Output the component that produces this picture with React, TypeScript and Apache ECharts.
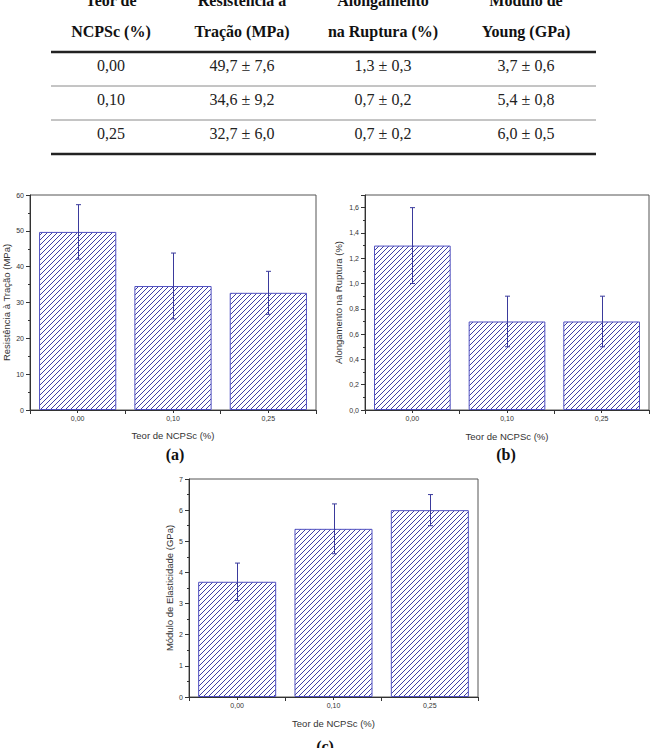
import React, { useEffect, useRef } from 'react';
import * as echarts from 'echarts';

// ---- data ----
const categories = ['0,00', '0,10', '0,25'];
const tensileMean = [49.7, 34.6, 32.7];
const tensileSd = [7.6, 9.2, 6.0];
const elongMean = [1.3, 0.7, 0.7];
const elongSd = [0.3, 0.2, 0.2];
const modulusMean = [3.7, 5.4, 6.0];
const modulusSd = [0.6, 0.8, 0.5];

const headerLine1 = ['Teor de', 'Resistência à', 'Alongamento', 'Módulo de'];
const headerLine2 = ['NCPSc (%)', 'Tração (MPa)', 'na Ruptura (%)', 'Young (GPa)'];
const xAxisTitle = 'Teor de NCPSc (%)';
const yTitles = ['Resistência à Tração (MPa)', 'Alongamento na Ruptura (%)', 'Módulo de Elasticidade (GPa)'];
const panelLabels = ['(a)', '(b)', '(c)'];
const yMaxes = [60, 1.7, 7];
const yIntervals = [10, 0.2, 1];
const yDecimals = [0, 1, 0];

const fmt = (v: number, d: number) => v.toFixed(d).replace('.', ',');

function makeHatch() {
  const c = document.createElement('canvas');
  const s = 5;
  c.width = s;
  c.height = s;
  const ctx = c.getContext('2d')!;
  ctx.fillStyle = '#ffffff';
  ctx.fillRect(0, 0, s, s);
  ctx.strokeStyle = '#3f3fa6';
  ctx.lineWidth = 1;
  ctx.beginPath();
  ctx.moveTo(-1, s + 1);
  ctx.lineTo(s + 1, -1);
  ctx.moveTo(-1, 1);
  ctx.lineTo(1, -1);
  ctx.moveTo(s - 1, s + 1);
  ctx.lineTo(s + 1, s - 1);
  ctx.stroke();
  return c;
}

export default function App() {
  const ref = useRef<HTMLDivElement>(null);
  useEffect(() => {
    if (!ref.current) return;
    const chart = echarts.init(ref.current, undefined, { renderer: 'svg' });
    const hatch = makeHatch();

    const means = [tensileMean, elongMean, modulusMean];
    const sds = [tensileSd, elongSd, modulusSd];
    const grids = [
      { left: 30, top: 195, width: 286, height: 215 },
      { left: 365, top: 195, width: 284, height: 215 },
      { left: 189, top: 479, width: 289, height: 218 },
    ];
    const yNameGaps = [19, 22, 15];
    const xNameGaps = [20, 21, 21];

    const sansFont = 'Liberation Sans, Arial, sans-serif';
    const serifFont = 'Liberation Serif, Times New Roman, serif';

    const xAxes: any[] = [];
    const yAxes: any[] = [];
    const series: any[] = [];
    grids.forEach((g, i) => {
      xAxes.push({
        type: 'category',
        gridIndex: i,
        data: categories,
        position: 'bottom',
        name: xAxisTitle,
        nameLocation: 'middle',
        nameGap: xNameGaps[i],
        nameTextStyle: { fontSize: 9.5, color: '#333', fontFamily: sansFont },
        axisLine: { lineStyle: { color: '#333', width: 1 } },
        axisTick: { show: true, alignWithLabel: false, length: 4, lineStyle: { color: '#333' } },
        axisLabel: { fontSize: 7, color: '#333', margin: 5, fontFamily: sansFont },
      });
      xAxes.push({
        type: 'category',
        gridIndex: i,
        data: categories,
        position: 'bottom',
        axisLine: { show: false },
        axisTick: { show: true, alignWithLabel: true, length: 3, lineStyle: { color: '#333' } },
        axisLabel: { show: false },
      });
      yAxes.push({
        type: 'value',
        gridIndex: i,
        min: 0,
        max: yMaxes[i],
        interval: yIntervals[i],
        name: yTitles[i],
        nameLocation: 'middle',
        nameGap: yNameGaps[i],
        nameTextStyle: { fontSize: 9.5, color: '#333', fontFamily: sansFont },
        splitLine: { show: false },
        axisLine: { show: true, lineStyle: { color: '#333', width: 1 } },
        axisTick: { show: true, length: 4, lineStyle: { color: '#333' } },
        minorTick: { show: true, splitNumber: 2, length: 2, lineStyle: { color: '#333' } },
        axisLabel: {
          fontSize: 7,
          color: '#333',
          margin: 6,
          fontFamily: sansFont,
          showMaxLabel: i === 1 ? false : true,
          formatter: (v: number) => fmt(v, yDecimals[i]),
        },
      });
      series.push({
        type: 'bar',
        xAxisIndex: i * 2,
        yAxisIndex: i,
        data: means[i],
        barWidth: '81%',
        itemStyle: {
          color: { image: hatch, repeat: 'repeat' },
          borderColor: '#5050c0',
          borderWidth: 1,
        },
        z: 2,
      });
      series.push({
        type: 'custom',
        xAxisIndex: i * 2,
        yAxisIndex: i,
        z: 3,
        data: means[i].map((m, k) => [k, m - sds[i][k], m + sds[i][k]]),
        renderItem: (params: any, api: any) => {
          const k = api.value(0);
          const lo = api.coord([k, api.value(1)]);
          const hi = api.coord([k, api.value(2)]);
          const x = Math.round(lo[0]) + 0.5;
          const cap = 2.5;
          const style = { stroke: '#3a3a9c', lineWidth: 1 };
          return {
            type: 'group',
            children: [
              { type: 'line', shape: { x1: x, y1: lo[1], x2: x, y2: hi[1] }, style },
              { type: 'line', shape: { x1: x - cap, y1: hi[1], x2: x + cap, y2: hi[1] }, style },
              { type: 'line', shape: { x1: x - cap, y1: lo[1], x2: x + cap, y2: lo[1] }, style },
            ],
          };
        },
      });
    });

    // table graphics
    const colX = [111, 242, 383, 526];
    const rowY = [65, 99, 133];
    const graphics: any[] = [];
    headerLine1.forEach((t, c) => {
      graphics.push({
        type: 'text', x: colX[c], y: 0,
        style: { text: t, fontSize: 16, fontWeight: 'bold', fontFamily: serifFont, fill: '#111', align: 'center', verticalAlign: 'middle' },
      });
    });
    headerLine2.forEach((t, c) => {
      graphics.push({
        type: 'text', x: colX[c], y: 31,
        style: { text: t, fontSize: 16, fontWeight: 'bold', fontFamily: serifFont, fill: '#111', align: 'center', verticalAlign: 'middle' },
      });
    });
    categories.forEach((cat, r) => {
      const cells = [
        cat,
        `${fmt(tensileMean[r], 1)} ± ${fmt(tensileSd[r], 1)}`,
        `${fmt(elongMean[r], 1)} ± ${fmt(elongSd[r], 1)}`,
        `${fmt(modulusMean[r], 1)} ± ${fmt(modulusSd[r], 1)}`,
      ];
      cells.forEach((t, c) => {
        graphics.push({
          type: 'text', x: colX[c], y: rowY[r],
          style: { text: t, fontSize: 16, fontFamily: serifFont, fill: '#222', align: 'center', verticalAlign: 'middle' },
        });
      });
    });
    const tableLines = [
      { y: 52, w: 2.5, c: '#222' },
      { y: 86, w: 1, c: '#8a8a8a' },
      { y: 120, w: 1, c: '#8a8a8a' },
      { y: 154, w: 2.5, c: '#222' },
    ];
    tableLines.forEach((l) => {
      graphics.push({
        type: 'line', shape: { x1: 51, y1: l.y, x2: 596, y2: l.y },
        style: { stroke: l.c, lineWidth: l.w },
      });
    });
    const labelPos = [[175, 454], [506, 454], [325, 746]];
    panelLabels.forEach((t, i) => {
      graphics.push({
        type: 'text', x: labelPos[i][0], y: labelPos[i][1],
        style: { text: t, fontSize: 16, fontWeight: 'bold', fontFamily: serifFont, fill: '#111', align: 'center', verticalAlign: 'middle' },
      });
    });

    chart.setOption({
      animation: false,
      backgroundColor: '#ffffff',
      grid: grids.map((g) => ({ ...g, show: true, borderColor: '#555', borderWidth: 1, backgroundColor: 'transparent' })),
      xAxis: xAxes,
      yAxis: yAxes,
      series,
      graphic: graphics,
    });
    return () => chart.dispose();
  }, []);
  return <div ref={ref} style={{ position: 'absolute', left: 0, top: 0, width: 650, height: 748 }} />;
}
